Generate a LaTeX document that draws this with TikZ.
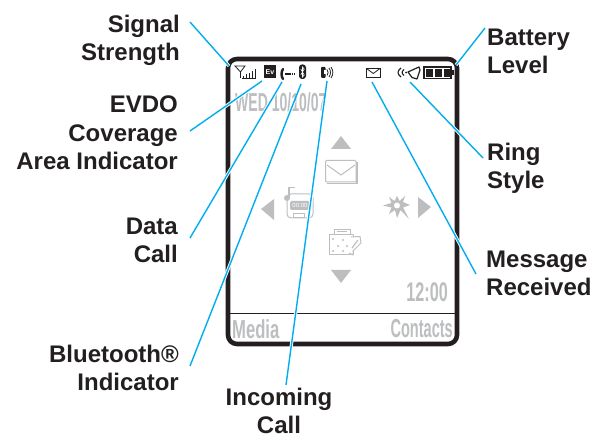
\documentclass[tikz,border=0pt]{standalone}
\usepackage{fontspec}
\setmainfont{Liberation Sans}
\usetikzlibrary{calc}
\definecolor{leader}{HTML}{00AEEF}
\definecolor{ink}{HTML}{231F20}
\definecolor{dim}{HTML}{BCBEC0}
\tikzset{
  x=1pt,y=-1pt,
  callout/.style={font=\fontsize{24}{28.2}\selectfont\bfseries,text=ink,inner sep=0pt,align=right},
  calloutl/.style={font=\fontsize{24}{28.2}\selectfont\bfseries,text=ink,inner sep=0pt,align=left},
  calloutc/.style={font=\fontsize{24}{27.5}\selectfont\bfseries,text=ink,inner sep=0pt,align=center},
  screentext/.style={text=dim,inner sep=0pt,font=\bfseries},
  halo/.style={draw=white,line width=3.2pt},
  leadline/.style={draw=leader,line width=1.4pt},
  icon/.style={draw=dim,line width=1pt,line join=round},
  dimfill/.style={fill=dim,draw=none},
  staticon/.style={draw=ink,line width=.8pt},
}
\begin{document}
\begin{tikzpicture}
\useasboundingbox (0,0) rectangle (592,438);
\fill[white] (0,0) rectangle (592,438);
% frame
\draw[ink,line width=4.6pt,rounded corners=9pt] (228,59) rectangle (457,344);
\draw[ink,line width=1.8pt] (229,313.5) -- (456,313.5);
% screen texts
\node[screentext,anchor=west] (date) at (235,102) {\fontsize{26}{26}\selectfont\scalebox{.54}[1]{WED 10/10/07}};
\node[screentext,anchor=east] (clock) at (448,292) {\fontsize{27}{27}\selectfont\scalebox{.6}[1]{12:00}};
\node[screentext,anchor=west] (media) at (232,329) {\fontsize{26}{26}\selectfont\scalebox{.64}[1]{Media}};
\node[screentext,anchor=east] (contacts) at (453,329) {\fontsize{26}{26}\selectfont\scalebox{.56}[1]{Contacts}};
% nav arrows
\fill[dimfill] (341,136) -- (331,149) -- (351,149) -- cycle;
\fill[dimfill] (341,283) -- (331,270) -- (351,270) -- cycle;
\fill[dimfill] (261,209) -- (274,199) -- (274,220) -- cycle;
\fill[dimfill] (431,207) -- (418,197) -- (418,218) -- cycle;
% envelope
\draw[icon,rounded corners=1pt] (325.5,160.5) rectangle (356,182);
\draw[dim,line width=1.4pt] (326.5,183.5) -- (357,183.5) -- (357,162);
\draw[icon] (327,165) -- (341,175) -- (355,165);
% recorder icon
\draw[icon,rounded corners=4pt] (287,194) rectangle (313,218);
\fill[dim] (287,198) circle (3);
\draw[dim,line width=1.8pt] (289,198) -- (289,187.5) -- (295,187.5);
\fill[dim,rounded corners=2pt] (290,201) rectangle (310,210);
\node[inner sep=0pt,text=white] (recdigits) at (300,205.5) {\fontsize{6}{6}\selectfont 00:00};
\draw[icon] (293,214) rectangle (304,218);
% star icon
\fill[dim] (397,196) -- (399.5,201) -- (405,196) -- (403,202) -- (410,205)
 -- (403,207.5) -- (409,219) -- (400.5,210) -- (397,218) -- (395,210) -- (389,214) -- (391.5,207.5) -- (383,205.5) -- (391.5,203) -- (389,197) -- (394.5,201) -- cycle;
\fill[white] (397,205.5) circle (3);
% games/tools icon
\draw[icon] (329,235) rectangle (353,255);
\draw[icon] (334,235) -- (334,229.5) -- (350,229.5) -- (350,235);
\draw[icon] (337,231.8) -- (347,231.8);
\foreach \px/\py in {333/239,343/240,338/246,347/246,333/251,343/251}
  \fill[dim] (\px,\py) circle (1.1);
\draw[icon,fill=white] (351,237) -- (360,236.5) -- (361,243) -- (353,251) -- (353,255) -- (349,253);
\draw[dim,line width=1.2pt] (352,248) -- (358,240);
% status icons
\draw[staticon] (235,66) -- (245,66) -- (240.5,72) -- cycle;
\draw[staticon] (240.5,72) -- (240.5,78);
\foreach \bx/\bt in {243/76,246/74.5,249/73,252/71,255/69.5}
  \draw[ink,line width=.8pt] (\bx,78) -- (\bx,\bt);
\draw[ink,line width=.8pt] (242,78) -- (256,78);
\fill[ink] (264,65) rectangle (276,78.5);
\node[inner sep=0pt,text=white] (evlabel) at (270,72) {\fontsize{7}{7}\selectfont\bfseries Ev};
\draw[ink,line width=2.4pt,line cap=round] (283,69) .. controls (281,72) and (281,76) .. (283,79);
\draw[ink,line width=1.2pt,dash pattern=on 1.5pt off .7pt] (285,74) -- (294,74);
\fill[ink,rounded corners=3pt] (299,64.5) rectangle (306,79);
\draw[white,line width=.6pt] (300.8,69) -- (304.2,75) -- (302.5,77) -- (302.5,67) -- (304.2,69) -- (300.8,75);
\fill[ink,rounded corners=1pt] (321,67) rectangle (325.5,78);
\fill[white] (324,70.5) rectangle (326,74.5);
\draw[ink,line width=.8pt] (327,69.5) .. controls (328.5,71) and (328.5,74) .. (327,75.5);
\draw[ink,line width=.8pt] (329,68) .. controls (331,71) and (331,74) .. (329,77);
\draw[ink,line width=.8pt] (331,67) .. controls (333.5,71) and (333.5,74) .. (331,78);
\draw[staticon] (366,68) rectangle (380.5,77.5);
\draw[staticon] (366.5,68.5) -- (373.3,73.5) -- (380,68.5);
\draw[ink,line width=1.1pt] (401,68) .. controls (397,71) and (397,74) .. (401,77);
\draw[ink,line width=1.1pt] (404,69.5) .. controls (401.5,71.5) and (401.5,73.5) .. (404,75.5);
\fill[ink] (406,72.5) circle (1);
\draw[ink,line width=1.2pt,line join=round] (408,72) -- (419,67) -- (420,70) -- (417,79) -- (412,77.5) -- cycle;
\draw[ink,line width=1.4pt] (424,67) rectangle (451,78.5);
\fill[ink] (452,70.5) rectangle (453.5,75.5);
\foreach \cx in {426.3,435,443.7}
  \fill[ink] (\cx,68.8) rectangle ++(6.8,8);
% callout labels
\node[callout,anchor=north east] (sig) at (180,15) {Signal\\Strength};
\node[callout,anchor=north east] (evdo) at (178,96) {EVDO\\Coverage\\Area Indicator};
\node[callout,anchor=north east] (data) at (178,218) {Data\\Call};
\node[callout,anchor=north east] (blue) at (179,345) {Bluetooth®\\Indicator};
\node[calloutc,anchor=north] (inc) at (279,388) {Incoming\\Call};
\node[calloutl,anchor=north west] (batt) at (487,29) {Battery\\Level};
\node[calloutl,anchor=north west] (ring) at (487,143) {Ring\\Style};
\node[calloutl,anchor=north west] (msg) at (486,251) {Message\\Received};
% connector ends
\coordinate (sigA) at (190,22);   \coordinate (sigB) at (229,66);
\coordinate (evA)  at (190,131);  \coordinate (evB)  at (262,81);
\coordinate (daA)  at (190,238);  \coordinate (daB)  at (282,82);
\coordinate (blA)  at (190,366);  \coordinate (blB)  at (301,84);
\coordinate (inA)  at (286,385);  \coordinate (inB)  at (327,81);
\coordinate (msA)  at (476,274);  \coordinate (msB)  at (372,82);
\coordinate (riA)  at (483,158);  \coordinate (riB)  at (410,82);
\coordinate (baA)  at (485,28);   \coordinate (baB)  at (456,65);
% halos over the frame
\foreach \a/\b in {evA/evB,daA/daB,blA/blB,inA/inB,msA/msB,riA/riB}
  \draw[halo] ($(\a)!.06!(\b)$) -- ($(\a)!.94!(\b)$);
\draw[halo] (sigA) -- (sigB);
\draw[halo] (baA) -- (baB);
\foreach \a/\b in {sigA/sigB,evA/evB,daA/daB,blA/blB,inA/inB,msA/msB,riA/riB,baA/baB}
  \draw[leadline] (\a) -- (\b);
\end{tikzpicture}
\end{document}
